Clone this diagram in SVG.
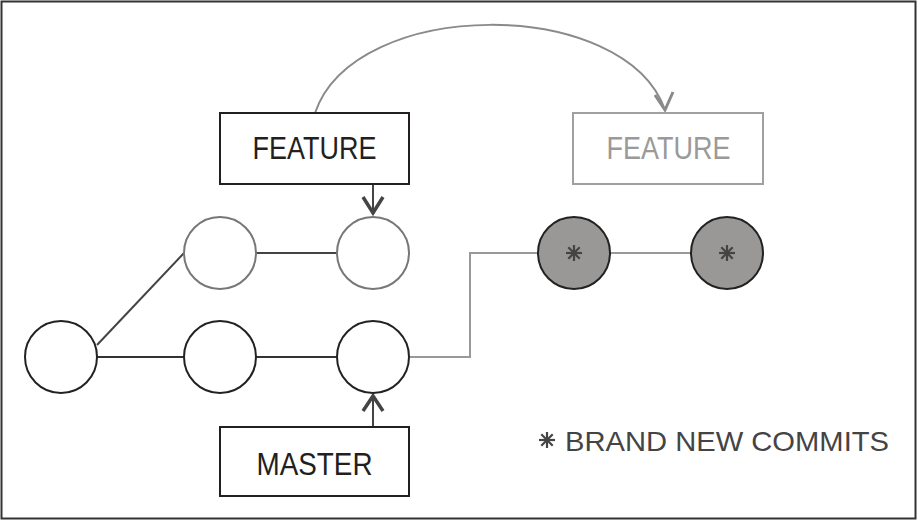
<svg xmlns="http://www.w3.org/2000/svg" width="918" height="522" viewBox="0 0 918 522">
<style>
.lbl{font-family:"Liberation Sans",Arial,sans-serif;font-size:30.5px;text-anchor:middle}
.box{fill:#fff;stroke-width:2}
.cw{fill:#fff;stroke-width:2}
.ln{fill:none;stroke-width:2}
.star{stroke:#444;stroke-width:2.2}
</style>
<defs>
<g id="ast">
<line x1="-8" y1="0" x2="8" y2="0"/><line x1="0" y1="-8" x2="0" y2="8"/>
<line x1="-5.7" y1="-5.7" x2="5.7" y2="5.7"/><line x1="-5.7" y1="5.7" x2="5.7" y2="-5.7"/>
<circle r="2" fill="#444" stroke="none"/>
</g>
</defs>
<rect x="1.5" y="1.5" width="914" height="517" fill="#fff" stroke="#333" stroke-width="2"/>
<g id="connectors">
<path class="ln" d="M315,113 C355,-4 625,-4 665,110" stroke="#8a8a8a"/>
<polyline points="655,95 665,110 673,92" fill="none" stroke="#8a8a8a" stroke-width="3"/>
<line class="ln" x1="373" y1="184" x2="373" y2="213" stroke="#444"/>
<polyline points="363,197 373,213 383,197" fill="none" stroke="#444" stroke-width="3.5"/>
<line class="ln" x1="373" y1="427" x2="373" y2="396" stroke="#444"/>
<polyline points="363,411 373,396 383,411" fill="none" stroke="#444" stroke-width="3.5"/>
<line class="ln" x1="97" y1="345" x2="184" y2="253" stroke="#444"/>
<line class="ln" x1="97" y1="357" x2="184" y2="357" stroke="#333"/>
<line class="ln" x1="256" y1="357" x2="337" y2="357" stroke="#333"/>
<line class="ln" x1="256" y1="253" x2="337" y2="253" stroke="#444"/>
<polyline class="ln" points="409,357 470,357 470,253 538,253" stroke="#999"/>
<line class="ln" x1="610" y1="253" x2="691" y2="253" stroke="#999"/>
</g>
<g id="feature-old">
<rect class="box" x="220" y="113" width="189" height="71" stroke="#231f20"/>
<text class="lbl" x="314.5" y="159" fill="#231f20" textLength="124" lengthAdjust="spacingAndGlyphs">FEATURE</text>
</g>
<g id="feature-new">
<rect class="box" x="573" y="113" width="190" height="71" stroke="#a0a0a0"/>
<text class="lbl" x="668.5" y="159" fill="#9a9a9a" textLength="124" lengthAdjust="spacingAndGlyphs">FEATURE</text>
</g>
<g id="master">
<rect class="box" x="220" y="427" width="189" height="69" stroke="#231f20"/>
<text class="lbl" x="314.5" y="475" fill="#231f20" textLength="116" lengthAdjust="spacingAndGlyphs">MASTER</text>
</g>
<g id="c-top1"><circle class="cw" cx="220" cy="253" r="36" stroke="#777"/></g>
<g id="c-top2"><circle class="cw" cx="373" cy="253" r="36" stroke="#777"/></g>
<g id="c-bot0"><circle class="cw" cx="61" cy="357" r="36" stroke="#222"/></g>
<g id="c-bot1"><circle class="cw" cx="220" cy="357" r="36" stroke="#222"/></g>
<g id="c-bot2"><circle class="cw" cx="373" cy="357" r="36" stroke="#222"/></g>
<g id="c-new1"><circle cx="574" cy="253" r="36" fill="#9a9896" stroke="#222" stroke-width="2"/><use href="#ast" class="star" x="574" y="253"/></g>
<g id="c-new2"><circle cx="727" cy="253" r="36" fill="#9a9896" stroke="#222" stroke-width="2"/><use href="#ast" class="star" x="727" y="253"/></g>
<g id="legend">
<use href="#ast" class="star" x="547" y="440"/>
<text class="lbl" x="727" y="451" fill="#444" style="font-size:28px" textLength="324" lengthAdjust="spacingAndGlyphs">BRAND NEW COMMITS</text>
</g>
</svg>
